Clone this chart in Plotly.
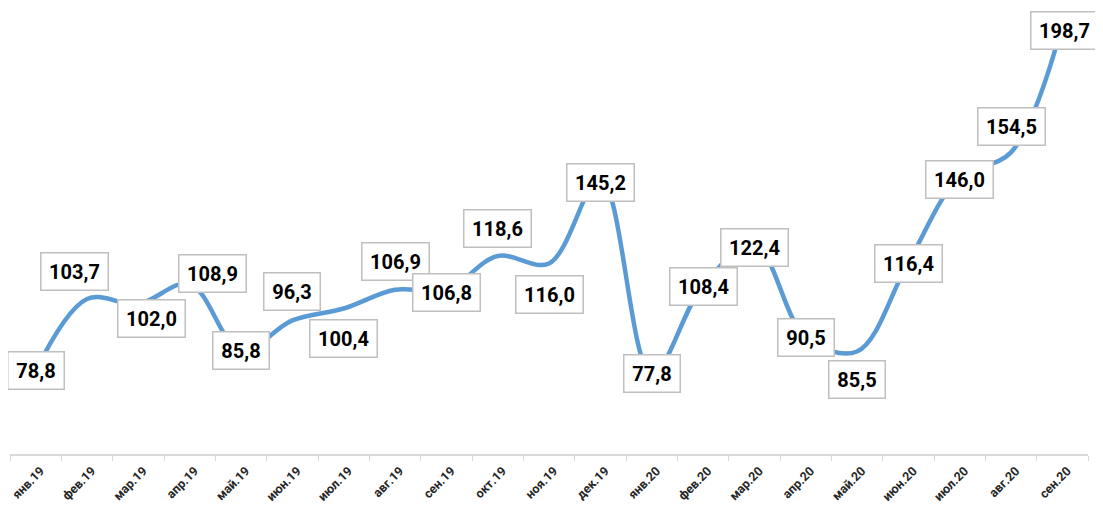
import plotly.graph_objects as go

# months and index values
months = ["янв.19", "фев.19", "мар.19", "апр.19", "май.19", "июн.19", "июл.19",
          "авг.19", "сен.19", "окт.19", "ноя.19", "дек.19", "янв.20", "фев.20",
          "мар.20", "апр.20", "май.20", "июн.20", "июл.20", "авг.20", "сен.20"]
values = [78.8, 103.7, 102.0, 108.9, 85.8, 96.3, 100.4, 106.9, 106.8, 118.6, 116.0,
          145.2, 77.8, 108.4, 122.4, 90.5, 85.5, 116.4, 146.0, 154.5, 198.7]

# label box offsets in px (xshift, yshift), up is positive
label_shift = [(0, 0), (-13, 27), (13, -15), (23, 10), (0, 0), (0, 29), (0, -30),
               (0, 28), (0, -2), (0, 27), (0, -31), (0, -3), (0, 0), (0, -1),
               (0, -2), (0, 0), (0, -28), (0, -1), (0, -3), (0, 26), (2, -6)]

fig = go.Figure()

fig.add_trace(go.Scatter(
    x=months, y=values, mode="lines",
    line=dict(color="#5B9BD5", width=4.5, shape="spline", smoothing=1),
    hoverinfo="skip", cliponaxis=False))

for m, v, (dx, dy) in zip(months, values, label_shift):
    txt = f"{v:.1f}".replace(".", ",")
    fig.add_annotation(
        x=m, y=v, text="<b>" + txt + "</b>", showarrow=False,
        xshift=dx, yshift=dy,
        font=dict(family="Roboto", size=20, color="#000000"),
        bgcolor="white", bordercolor="#BFBFBF", borderwidth=1.5, borderpad=5,
        width=11 * len(txt) + 1, height=26)

# page body has an 8px margin, so the figure is a bit smaller than the window
fig.update_layout(
    width=1095, height=508,
    margin=dict(l=2, r=15, t=13, b=62, autoexpand=False),
    paper_bgcolor="white", plot_bgcolor="white",
    showlegend=False,
    xaxis=dict(
        type="category", range=[-0.5, 20.5], automargin=False,
        tickson="boundaries", ticks="outside", ticklen=5, tickcolor="#D9D9D9",
        showline=True, linecolor="#D9D9D9", linewidth=1.5,
        showgrid=False, tickangle=-45, ticklabelstandoff=3, ticklabelshift=5,
        tickfont=dict(family="Roboto", size=12.5, color="#262626", weight="bold")),
    yaxis=dict(range=[50, 200], visible=False, showgrid=False, zeroline=False,
               automargin=False),
)

fig.write_html("out.html")
